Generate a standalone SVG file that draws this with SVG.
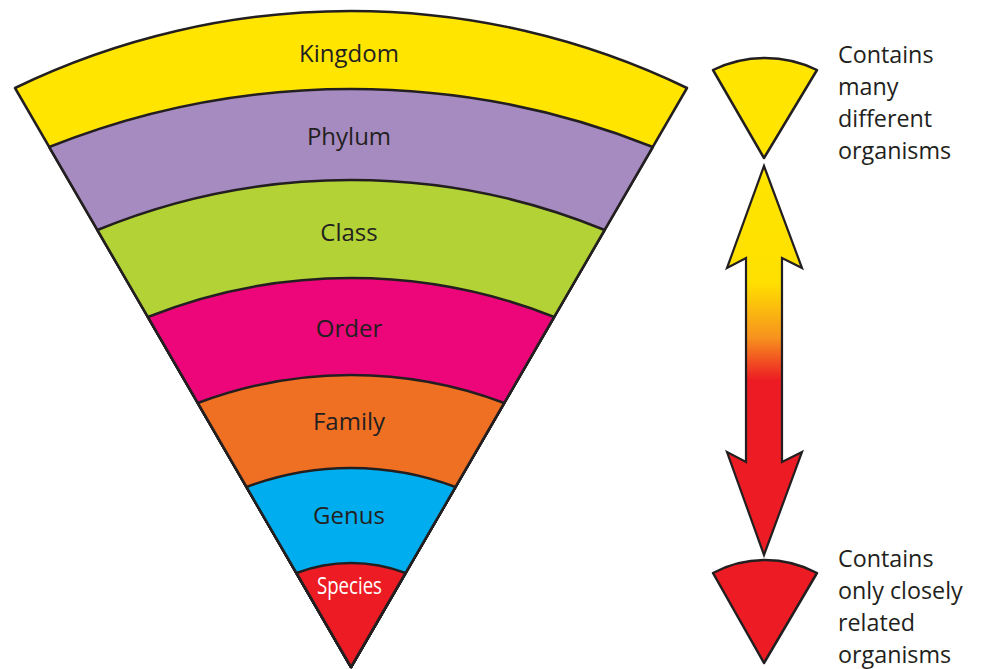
<svg xmlns="http://www.w3.org/2000/svg" width="981" height="669" viewBox="0 0 981 669">
<style>
.band{stroke:#231F20;stroke-width:2.5;stroke-linejoin:round}
.lbl{font-family:"Open Sans","Noto Sans",sans-serif;font-size:24px;fill:#231F20;text-anchor:middle}
.side{font-family:"Open Sans","Noto Sans",sans-serif;font-size:23.3px;fill:#231F20}
</style>
<defs>
<linearGradient id="arrowGrad" x1="0" y1="166" x2="0" y2="555" gradientUnits="userSpaceOnUse">
<stop offset="0" stop-color="#FFE500"/>
<stop offset="0.3" stop-color="#FFE000"/>
<stop offset="0.44" stop-color="#F7931E"/>
<stop offset="0.55" stop-color="#ED1C24"/>
<stop offset="1" stop-color="#ED1C24"/>
</linearGradient>
</defs>
<rect width="981" height="669" fill="#FFFFFF"/>
<g id="kingdom">
<path class="band" fill="#FFE500" d="M15,88 A771.6,771.6 0 0 1 687,88 L351,667 Z"/>
<text class="lbl" x="349" y="62">Kingdom</text>
</g>
<g id="phylum">
<path class="band" fill="#A68BC0" d="M49.2,147 A814.2,814.2 0 0 1 652.8,147 L351,667 Z"/>
<text class="lbl" x="349" y="145">Phylum</text>
</g>
<g id="class">
<path class="band" fill="#B2D235" d="M97.4,230 A668.1,668.1 0 0 1 604.6,230 L351,667 Z"/>
<text class="lbl" x="349" y="241">Class</text>
</g>
<g id="order">
<path class="band" fill="#EC0679" d="M147.9,317 A548.3,548.3 0 0 1 554.1,317 L351,667 Z"/>
<text class="lbl" x="349" y="337">Order</text>
</g>
<g id="family">
<path class="band" fill="#F07023" d="M197.8,403 A433.1,433.1 0 0 1 504.2,403 L351,667 Z"/>
<text class="lbl" x="349" y="430">Family</text>
</g>
<g id="genus">
<path class="band" fill="#00AEEF" d="M246.5,487 A296.9,296.9 0 0 1 455.5,487 L351,667 Z"/>
<text class="lbl" x="349" y="524">Genus</text>
</g>
<g id="species">
<path class="band" fill="#ED1C24" d="M296.5,573 A153.5,153.5 0 0 1 405.5,573 L351,667 Z"/>
<text x="349.5" y="594" font-family="'Open Sans','Noto Sans',sans-serif" font-size="23" fill="#FFFFFF" text-anchor="middle" textLength="65" lengthAdjust="spacingAndGlyphs">Species</text>
</g>
<g id="many-sector">
<path class="band" fill="#FFE500" d="M713,70 A118.7,118.7 0 0 1 817,70 L764,158 Z"/>
</g>
<g id="few-sector">
<path class="band" fill="#ED1C24" d="M713,573 A110.5,110.5 0 0 1 817,573 L764,663 Z"/>
</g>
<g id="connectors">
<path fill="url(#arrowGrad)" stroke="#231F20" stroke-width="2.2" stroke-linejoin="miter" d="M764,166 L802,268 L782,258 L782,462 L802,452 L764,555 L727,452 L746,462 L746,258 L727,268 Z"/>
</g>
<g id="label-many">
<text class="side" x="838" y="63">Contains</text>
<text class="side" x="838" y="95">many</text>
<text class="side" x="838" y="127">different</text>
<text class="side" x="838" y="159">organisms</text>
</g>
<g id="label-few">
<text class="side" x="838" y="567">Contains</text>
<text class="side" x="838" y="599">only closely</text>
<text class="side" x="838" y="631">related</text>
<text class="side" x="838" y="663">organisms</text>
</g>
</svg>
